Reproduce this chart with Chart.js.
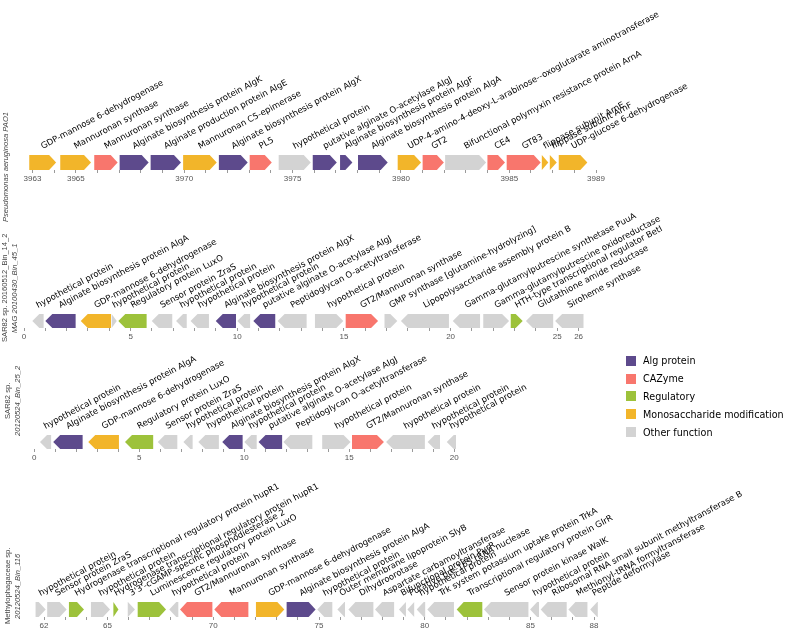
<!DOCTYPE html>
<html>
<head>
<meta charset="utf-8">
<script src="https://cdn.jsdelivr.net/npm/chart.js@4.4.1/dist/chart.umd.min.js"></script>
<style>
  body { margin: 0; background: #fff; }
  #wrap { position: relative; width: 787px; height: 638px; overflow: hidden; }
  .track { position: absolute; left: 0; }
  .side {
    position: absolute; writing-mode: vertical-rl; transform: rotate(180deg);
    font-family: "Liberation Sans", Arial, sans-serif; font-size: 7.6px; line-height: 10px;
    color: #444; text-align: center; white-space: nowrap;
  }
  .side i { font-style: italic; }
  #legend { position: absolute; left: 626px; top: 352px; font-family: "DejaVu Sans", sans-serif; font-size: 9.6px; white-space: nowrap; }
  #legend div { height: 17.8px; display: flex; align-items: center; }
  #legend span.sw { width: 10px; height: 10px; margin-right: 7px; display: inline-block; flex: none; }
</style>
</head>
<body>
<div id="wrap">
  <canvas id="c1" class="track" width="787" height="184" style="top:0px"></canvas>
  <canvas id="c2" class="track" width="787" height="152" style="top:190px"></canvas>
  <canvas id="c3" class="track" width="787" height="123" style="top:340px"></canvas>
  <canvas id="c4" class="track" width="787" height="161" style="top:470px"></canvas>

  <div class="side" style="left:1px; top:107px; height:120px;"><i>Pseudomonas aeruginosa PAO1</i></div>
  <div class="side" style="left:0px; top:228px; height:120px;">SAR82 sp. 20160512_Bin_14_2<br><i>MAG 20100430_Bin_45_1</i></div>
  <div class="side" style="left:3px; top:341px; height:120px;">SAR82 sp.<br><i>20120524_Bin_25_2</i></div>
  <div class="side" style="left:3px; top:526px; height:120px;">Methylophagaceae sp.<br><i>20120524_Bin_116</i></div>

  <div id="legend"></div>
</div>
<script>
// функциональные группы
const funcTypes = ['Alg protein', 'CAZyme', 'Regulatory', 'Monosaccharide modification', 'Other function'];
const funcColors = ['#5d4a8c', '#f8766d', '#9dc23b', '#f2b52a', '#d3d3d3'];

// Pseudomonas aeruginosa PAO1
const t1Names = ['GDP-mannose 6-dehydrogenase', 'Mannuronan synthase', 'Mannuronan synthase',
  'Alginate biosynthesis protein AlgK', 'Alginate production protein AlgE', 'Mannuronan C5-epimerase',
  'Alginate biosynthesis protein AlgX', 'PL5', 'hypothetical protein', 'putative alginate O-acetylase AlgJ',
  'Alginate biosynthesis protein AlgF', 'Alginate biosynthesis protein AlgA',
  'UDP-4-amino-4-deoxy-L-arabinose--oxoglutarate aminotransferase', 'GT2',
  'Bifunctional polymyxin resistance protein ArnA', 'CE4', 'GT83', 'flippase subunit ArnE',
  'flippase subunit ArnF', 'UDP-glucose 6-dehydrogenase'];
const t1Start = [3962.85, 3964.28, 3965.85, 3967.02, 3968.45, 3969.95, 3971.6, 3973.02, 3974.36, 3975.93,
  3977.19, 3978.02, 3979.85, 3981.0, 3982.04, 3983.99, 3984.88, 3986.5, 3986.87, 3987.28];
const t1End = [3964.09, 3965.7, 3966.93, 3968.36, 3969.85, 3971.5, 3972.93, 3974.04, 3975.84, 3977.04,
  3977.76, 3979.39, 3980.93, 3981.98, 3983.93, 3984.8, 3986.45, 3986.8, 3987.19, 3988.6];
const t1Dir = [1, 1, 1, 1, 1, 1, 1, 1, 1, 1, 1, 1, 1, 1, 1, 1, 1, 1, 1, 1];
const t1Type = [3, 3, 1, 0, 0, 3, 0, 1, 4, 0, 0, 0, 3, 1, 4, 1, 1, 3, 3, 3];
const t1Ticks = [3963, 3965, 3970, 3975, 3980, 3985, 3989];

// SAR82 sp. 20160512_Bin_14_2
const t2Names = ['hypothetical protein', 'Alginate biosynthesis protein AlgA', 'GDP-mannose 6-dehydrogenase',
  'hypothetical protein', 'Regulatory protein LuxO', 'Sensor protein ZraS', 'hypothetical protein',
  'hypothetical protein', 'Alginate biosynthesis protein AlgX', 'hypothetical protein',
  'putative alginate O-acetylase AlgJ', 'Peptidoglycan O-acetyltransferase', 'hypothetical protein',
  'GT2/Mannuronan synthase', 'GMP synthase [glutamine-hydrolyzing]', 'Lipopolysaccharide assembly protein B',
  'Gamma-glutamylputrescine synthetase PuuA', 'Gamma-glutamylputrescine oxidoreductase',
  'HTH-type transcriptional regulator BetI', 'Glutathione amide reductase', 'Siroheme synthase'];
const t2Start = [0.39, 1.0, 2.66, 4.11, 4.42, 5.99, 7.13, 7.81, 8.99, 10.0, 10.75, 11.89, 13.64, 15.08,
  16.9, 17.67, 20.1, 21.53, 22.82, 23.53, 24.9];
const t2End = [0.92, 2.42, 4.08, 4.35, 5.75, 6.95, 7.63, 8.67, 9.94, 10.6, 11.78, 13.25, 14.97, 16.6,
  17.5, 19.92, 21.38, 22.74, 23.38, 24.81, 26.23];
const t2Dir = [-1, -1, -1, 1, -1, -1, -1, -1, -1, -1, -1, -1, 1, 1, 1, -1, -1, 1, 1, -1, -1];
const t2Type = [4, 0, 3, 4, 2, 4, 4, 4, 0, 4, 0, 4, 4, 1, 4, 4, 4, 4, 2, 4, 4];
const t2Ticks = [0, 5, 10, 15, 20, 25, 26];

// SAR82 sp. 20120524_Bin_25_2
const t3Names = ['hypothetical protein', 'Alginate biosynthesis protein AlgA', 'GDP-mannose 6-dehydrogenase',
  'Regulatory protein LuxO', 'Sensor protein ZraS', 'hypothetical protein', 'hypothetical protein',
  'Alginate biosynthesis protein AlgX', 'hypothetical protein', 'putative alginate O-acetylase AlgJ',
  'Peptidoglycan O-acetyltransferase', 'hypothetical protein', 'GT2/Mannuronan synthase',
  'hypothetical protein', 'hypothetical protein', 'hypothetical protein'];
const t3Start = [0.27, 0.9, 2.57, 4.32, 5.88, 7.1, 7.81, 8.95, 10.0, 10.68, 11.86, 13.71, 15.13, 16.75, 18.73, 19.64];
const t3End = [0.8, 2.3, 4.03, 5.66, 6.81, 7.54, 8.79, 9.92, 10.59, 11.8, 13.24, 15.06, 16.65, 18.6, 19.32, 20.08];
const t3Dir = [-1, -1, -1, -1, -1, -1, -1, -1, -1, -1, -1, 1, 1, -1, -1, -1];
const t3Type = [4, 0, 3, 2, 4, 4, 4, 0, 4, 0, 4, 4, 1, 4, 4, 4];
const t3Ticks = [0, 5, 10, 15, 20];

// Methylophagaceae sp. 20120524_Bin_116
const t4Names = ['hypothetical protein', 'Sensor protein ZraS', 'Hydrogenase transcriptional regulatory protein hupR1',
  'hypothetical protein', 'Hydrogenase transcriptional regulatory protein hupR1',
  "3'3'-cGAMP-specific phosphodiesterase 2", 'Luminescence regulatory protein LuxO', 'hypothetical protein',
  'GT2/Mannuronan synthase', 'Mannuronan synthase', 'GDP-mannose 6-dehydrogenase',
  'Alginate biosynthesis protein AlgA', 'hypothetical protein', 'Outer membrane lipoprotein SlyB',
  'Dihydroorotase', 'Aspartate carbamoyltransferase', 'Bifunctional protein PyrR',
  'Putative pre-16S rRNA nuclease', 'hypothetical protein', 'Trk system potassium uptake protein TrkA',
  'Transcriptional regulatory protein GlrR', 'Sensor protein kinase WalK', 'hypothetical protein',
  'Ribosomal RNA small subunit methyltransferase B', 'Methionyl-tRNA formyltransferase', 'Peptide deformylase'];
const t4Start = [61.6, 62.15, 63.18, 64.22, 65.28, 65.96, 66.43, 67.92, 68.43, 70.05, 72.02, 73.47, 74.92,
  75.87, 76.39, 77.65, 78.78, 79.18, 79.62, 80.12, 81.51, 82.8, 84.98, 85.48, 86.79, 87.82];
const t4End = [62.08, 63.07, 63.89, 65.12, 65.52, 66.3, 67.77, 68.35, 69.96, 71.66, 73.36, 74.84, 75.63,
  76.23, 77.57, 78.55, 79.11, 79.5, 80.02, 81.38, 82.72, 84.9, 85.4, 86.71, 87.69, 88.18];
const t4Dir = [1, 1, 1, 1, 1, 1, 1, -1, -1, -1, 1, 1, -1, -1, -1, -1, -1, -1, -1, -1, -1, -1, -1, -1, -1, -1];
const t4Type = [4, 4, 2, 4, 2, 4, 2, 4, 1, 1, 3, 0, 4, 4, 4, 4, 4, 4, 4, 4, 2, 4, 4, 4, 4, 4];
const t4Ticks = [62, 65, 70, 75, 80, 85, 88];

// рисуем стрелки генов и подписи
function genePlugin(names, starts, ends, dirs, types) {
  return {
    id: 'genes',
    afterDatasetsDraw(chart) {
      const ctx = chart.ctx;
      const xs = chart.scales.x, ys = chart.scales.y;
      const top = ys.getPixelForValue(1);
      const bot = ys.getPixelForValue(-1);
      const mid = (top + bot) / 2;
      ctx.save();
      for (let i = 0; i < names.length; i++) {
        const a = xs.getPixelForValue(starts[i]);
        const b = xs.getPixelForValue(ends[i]);
        const head = Math.min(7, b - a);
        ctx.fillStyle = funcColors[types[i]];
        ctx.beginPath();
        if (dirs[i] > 0) {
          ctx.moveTo(a, top); ctx.lineTo(b - head, top); ctx.lineTo(b, mid);
          ctx.lineTo(b - head, bot); ctx.lineTo(a, bot);
        } else {
          ctx.moveTo(b, top); ctx.lineTo(a + head, top); ctx.lineTo(a, mid);
          ctx.lineTo(a + head, bot); ctx.lineTo(b, bot);
        }
        ctx.closePath();
        ctx.fill();
      }
      ctx.fillStyle = '#000';
      ctx.font = '8.5px "DejaVu Sans"';
      ctx.textAlign = 'left';
      ctx.textBaseline = 'alphabetic';
      for (let i = 0; i < names.length; i++) {
        const cx = xs.getPixelForValue((starts[i] + ends[i]) / 2);
        ctx.save();
        ctx.translate(cx, top - 6);
        ctx.rotate(-28 * Math.PI / 180);
        ctx.fillText(names[i], 0, 0);
        ctx.restore();
      }
      ctx.restore();
    }
  };
}

function makeTrack(id, names, starts, ends, dirs, types, tickLabels, padLeft, padRight, padTop) {
  const min = tickLabels[0];
  const max = tickLabels[tickLabels.length - 1];
  return new Chart(document.getElementById(id), {
    type: 'scatter',
    data: {
      datasets: [{
        data: starts.map((s, i) => ({ x: (s + ends[i]) / 2, y: 0 })),
        pointRadius: 0
      }]
    },
    options: {
      responsive: false,
      animation: false,
      layout: { padding: { left: padLeft, right: padRight, top: padTop, bottom: 0 } },
      plugins: { legend: { display: false }, tooltip: { enabled: false } },
      scales: {
        x: {
          type: 'linear', min: min, max: max,
          afterBuildTicks: sc => {
            const t = [];
            for (let v = min; v <= max; v++) t.push({ value: v });
            sc.ticks = t;
          },
          afterFit: sc => { sc.height = 14; },
          border: { display: false },
          grid: { drawOnChartArea: false, tickLength: 3, color: '#9a9a9a' },
          ticks: {
            autoSkip: false, maxRotation: 0, padding: 1, color: '#555',
            font: { family: '"Liberation Sans"', size: 8 },
            callback: v => tickLabels.includes(v) ? String(v) : ''
          }
        },
        y: { display: false, min: -1, max: 1 }
      }
    },
    plugins: [genePlugin(names, starts, ends, dirs, types)]
  });
}

makeTrack('c1', t1Names, t1Start, t1End, t1Dir, t1Type, t1Ticks, 32.5, 191, 155);
makeTrack('c2', t2Names, t2Start, t2End, t2Dir, t2Type, t2Ticks, 24, 208.4, 124);
makeTrack('c3', t3Names, t3Start, t3End, t3Dir, t3Type, t3Ticks, 34.3, 332.7, 95);
makeTrack('c4', t4Names, t4Start, t4End, t4Dir, t4Type, t4Ticks, 44, 193, 132);

// легенда
const legend = document.getElementById('legend');
funcTypes.forEach((name, i) => {
  const row = document.createElement('div');
  row.innerHTML = '<span class="sw" style="background:' + funcColors[i] + '"></span>' + name;
  legend.appendChild(row);
});
</script>
</body>
</html>
